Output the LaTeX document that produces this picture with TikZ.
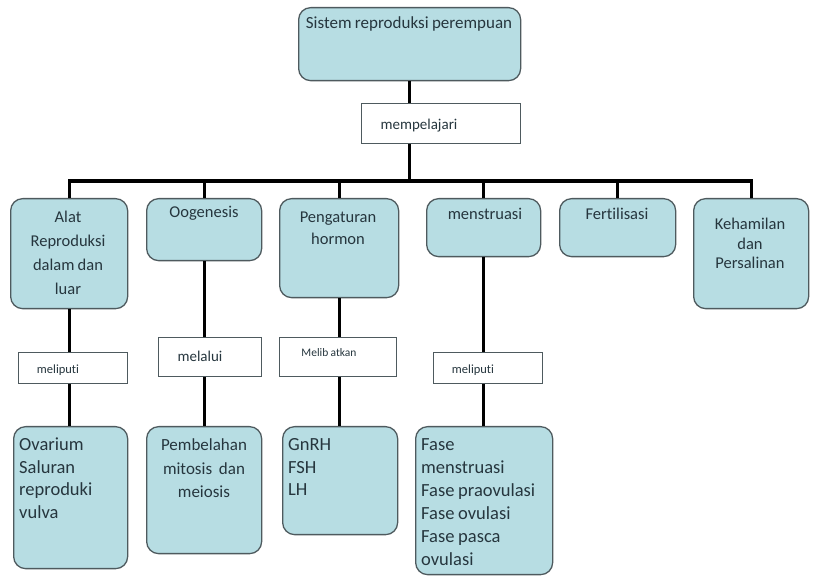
\documentclass[tikz,border=0pt]{standalone}
\usepackage{fontspec}
\setmainfont[Ligatures=NoCommon]{Carlito}
\definecolor{boxfill}{HTML}{B7DDE3}
\definecolor{boxline}{HTML}{4E5A5E}
\definecolor{txtcol}{HTML}{26363E}
\begin{document}
\begin{tikzpicture}[x=1pt,y=-1pt,
  box/.style={draw=boxline, fill=boxfill, line width=1.3pt, rounded corners=12pt, inner sep=0, anchor=north west},
  lbl/.style={draw=boxline, fill=white, line width=1.2pt, inner sep=0, anchor=north west},
  txt/.style={text=txtcol, inner sep=0, execute at begin node={\spaceskip=0.2em\relax}},
  big/.style={font=\fontsize{16.5}{24}\selectfont},
  conn/.style={line width=3.2pt, black}]
\useasboundingbox (0,0) rectangle (815,577);
% boxes
\node[box, minimum width=222, minimum height=73] (top) at (298,7) {};
\node[lbl, minimum width=159, minimum height=40] (mem) at (361,103) {};
\node[box, minimum width=117, minimum height=110] (alat) at (10,198) {};
\node[box, minimum width=115, minimum height=62] (oog) at (146,198) {};
\node[box, minimum width=119, minimum height=99] (peng) at (279,198) {};
\node[box, minimum width=114, minimum height=58] (mens) at (426,198) {};
\node[box, minimum width=116, minimum height=58] (fert) at (559,198) {};
\node[box, minimum width=115, minimum height=110] (keh) at (693,198) {};
\node[lbl, minimum width=109, minimum height=31] (meli1) at (18,352) {};
\node[lbl, minimum width=103, minimum height=39] (mela) at (158,337) {};
\node[lbl, minimum width=117, minimum height=39] (melib) at (279,337) {};
\node[lbl, minimum width=109, minimum height=31] (meli2) at (433,352) {};
\node[box, minimum width=114, minimum height=142] (ova) at (13,426) {};
\node[box, minimum width=115, minimum height=127] (pemb) at (146,426) {};
\node[box, minimum width=115, minimum height=108] (gnrh) at (282,426) {};
\node[box, minimum width=137, minimum height=148] (fase) at (415,426) {};
\coordinate (barc) at (409,181);
% connectors
\begin{scope}[conn]
\draw (top.south) -- (top.south |- mem.north);
\draw (top.south |- mem.south) -- (top.south |- barc);
\draw (alat.north) -- (alat.north |- barc) -- (keh.north |- barc) -- (keh.north);
\foreach \n in {oog,peng,mens,fert} \draw (\n.north |- barc) -- (\n.north);
\draw (alat.south) -- (alat.south |- meli1.north);
\draw (alat.south |- meli1.south) -- (alat.south |- ova.north);
\draw (oog.south) -- (oog.south |- mela.north);
\draw (oog.south |- mela.south) -- (oog.south |- pemb.north);
\draw (peng.south) -- (peng.south |- melib.north);
\draw (peng.south |- melib.south) -- (peng.south |- gnrh.north);
\draw (mens.south) -- (mens.south |- meli2.north);
\draw (mens.south |- meli2.south) -- (mens.south |- fase.north);
\end{scope}
% texts
\node[txt, font=\fontsize{17}{24}\selectfont, text width=220, align=center, anchor=base] (topT) at (409,29) {Sistem reproduksi perempuan};
\node[txt, font=\fontsize{15}{18}\selectfont, text width=120, align=center, anchor=base] (memT) at (419,130) {mempelajari};
\node[txt, big, text width=110, align=center, anchor=base] (alatT) at (68,223) {Alat\\Reproduksi\\dalam dan\\luar};
\node[txt, big, text width=110, align=center, anchor=base] (oogT) at (204,218) {Oogenesis};
\node[txt, font=\fontsize{16.5}{22}\selectfont, text width=110, align=center, anchor=base] (pengT) at (338,223) {Pengaturan\\hormon};
\node[txt, big, text width=110, align=center, anchor=base] (mensT) at (485,220) {menstruasi};
\node[txt, big, text width=110, align=center, anchor=base] (fertT) at (617,220) {Fertilisasi};
\node[txt, font=\fontsize{16.5}{19.5}\selectfont, text width=110, align=center, anchor=base] (kehT) at (750,230) {Kehamilan\\dan\\Persalinan};
\node[txt, font=\fontsize{12.5}{15}\selectfont, text width=100, align=center, anchor=base] (meli1T) at (58,374) {meliputi};
\node[txt, font=\fontsize{15}{18}\selectfont, text width=100, align=center, anchor=base] (melaT) at (200,362) {melalui};
\node[txt, font=\fontsize{11.5}{14}\selectfont, text width=110, align=center, anchor=base] (melibT) at (329,357) {Melib atkan};
\node[txt, font=\fontsize{12.5}{15}\selectfont, text width=100, align=center, anchor=base] (meli2T) at (473,374) {meliputi};
\node[txt, font=\fontsize{18.5}{22.5}\selectfont, text width=105, align=left, anchor=base west] (ovaT) at (19,451) {Ovarium\\Saluran\\reproduki\\vulva};
\node[txt, font=\fontsize{17}{23.5}\selectfont, text width=112, align=center, anchor=base] (pembT) at (204,451) {Pembelahan\\mitosis \ dan\\meiosis};
\node[txt, font=\fontsize{18.5}{22.5}\selectfont, text width=105, align=left, anchor=base west] (gnrhT) at (288,451) {GnRH\\FSH\\LH};
\node[txt, font=\fontsize{18.5}{23}\selectfont, text width=132, align=left, anchor=base west] (faseT) at (421,451) {Fase\\menstruasi\\Fase praovulasi\\Fase ovulasi\\Fase pasca\\ovulasi};
\end{tikzpicture}
\end{document}
